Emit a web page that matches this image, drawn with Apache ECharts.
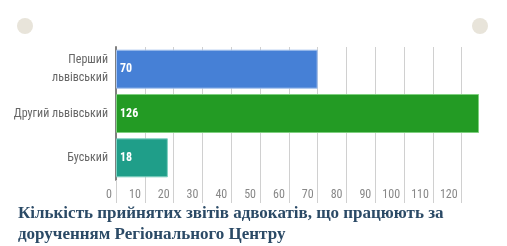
<!DOCTYPE html>
<html>
<head>
<meta charset="utf-8">
<script src="https://cdn.jsdelivr.net/npm/echarts@6/dist/echarts.min.js"></script>
<style>
  html, body { margin: 0; padding: 0; background: #fff; }
  #chart { width: 507px; height: 246px; }
</style>
</head>
<body>
<div id="chart"></div>
<script>
// райони та кількість звітів
const categories = ['Перший\nльвівський', 'Другий львівський', 'Буський'];
const values = [70, 126, 18];
const barColors = ['#4680d6', '#239b24', '#1f9e89'];
const borderColors = ['#a3c0ec', '#7fcf7f', '#7fcfbf'];
const titleLines = [
  'Кількість прийнятих звітів адвокатів, що працюють за',
  'дорученням Регіонального Центру'
];

const narrow = '"Liberation Sans Narrow", "Roboto Condensed", "Noto Sans", sans-serif';

const chart = echarts.init(document.getElementById('chart'));
chart.setOption({
  animation: false,
  backgroundColor: '#fff',
  grid: { left: 116, right: 28, top: 47, bottom: 66 },
  xAxis: {
    type: 'value',
    min: 0,
    max: 126,
    interval: 10,
    axisLine: { show: false },
    axisTick: { show: true, length: 23, lineStyle: { color: '#d0d0d0' } },
    axisLabel: {
      color: '#888', fontSize: 12, fontFamily: narrow,
      align: 'right', padding: [0, 4, 0, 0], margin: 9,
      showMaxLabel: false
    },
    splitLine: { show: true, showMaxLine: false, lineStyle: { color: '#d0d0d0' } }
  },
  yAxis: {
    type: 'category',
    inverse: true,
    data: categories,
    axisLine: { show: true, lineStyle: { color: '#808080', width: 2 } },
    axisTick: { show: false },
    axisLabel: {
      color: '#666', fontSize: 12, fontFamily: narrow, margin: 8,
      align: 'right', lineHeight: 18
    }
  },
  series: [{
    type: 'bar',
    barCategoryGap: '12%',
    data: values.map((v, i) => ({
      value: v,
      itemStyle: { color: barColors[i], borderColor: borderColors[i], borderWidth: 1 }
    })),
    label: {
      show: true,
      position: 'insideLeft',
      distance: 4,
      color: '#fff',
      fontSize: 12,
      fontWeight: 'bold',
      fontFamily: narrow
    }
  }],
  graphic: [
    { type: 'circle', shape: { cx: 25, cy: 26, r: 8 }, style: { fill: '#e8e4da' } },
    { type: 'circle', shape: { cx: 480, cy: 26, r: 8 }, style: { fill: '#e8e4da' } },
    {
      type: 'text', left: 18, top: 203,
      style: {
        text: titleLines.join('\n'),
        fill: '#2b4a66',
        font: 'bold 17px "Liberation Serif", "DejaVu Serif", serif',
        lineHeight: 21
      }
    }
  ]
});
</script>
</body>
</html>
